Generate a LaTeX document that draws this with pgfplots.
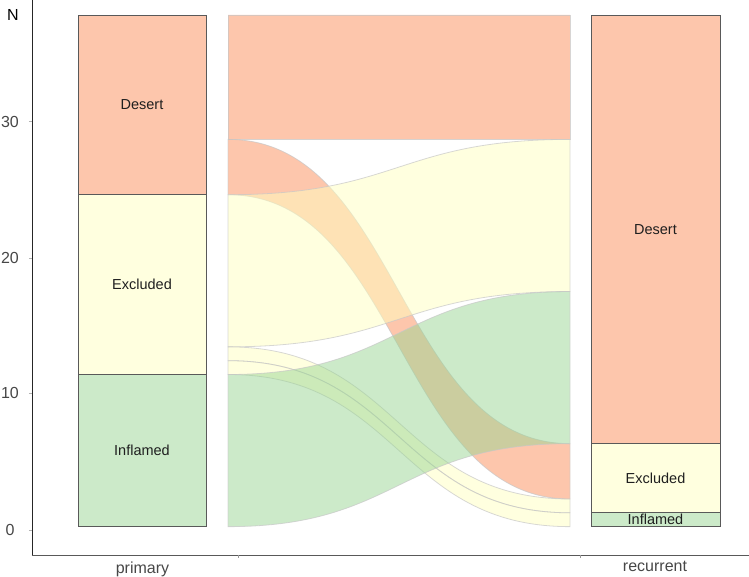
\documentclass[border=0pt]{standalone}
\usepackage{pgfplots}
\pgfplotsset{compat=1.18}
\usepackage{fontspec}
\setmainfont{Liberation Sans}
\definecolor{desert}{HTML}{FC8D59}
\definecolor{excluded}{HTML}{FFFFBF}
\definecolor{inflamed}{HTML}{99D594}
% flow: left top, left bottom, right top, right bottom, colour
\newcommand{\flow}[5]{%
  \filldraw[fill=#5, fill opacity=0.5, draw=black!22, draw opacity=0.7, line width=0.8pt]
    (axis cs:228,#1) .. controls (axis cs:399,#1) and (axis cs:399,#3) .. (axis cs:570,#3)
    -- (axis cs:570,#4) .. controls (axis cs:399,#4) and (axis cs:399,#2) .. (axis cs:228,#2) -- cycle;}
\begin{document}
\begin{tikzpicture}
\useasboundingbox (0,0) rectangle (749pt,577pt);
\begin{axis}[
  at={(32pt,22pt)}, anchor=south west,
  width=717pt, height=555pt, scale only axis,
  xmin=32, xmax=749, ymin=-2.05, ymax=38.08,
  axis lines=left, axis line style={-},
  x axis line style={draw=black!65, line width=0.9pt},
  y axis line style={draw=black!85, line width=0.9pt},
  xtick={142.5,655}, xticklabels={primary,recurrent},
  xtick style={draw=none},
  ytick={-0.27,9.65,19.43,29.28}, yticklabels={0,10,20,30},
  ytick style={draw=black!30, line width=0.6pt},
  tick align=outside, major tick length=3pt,
  tick label style={font=\fontsize{16}{19}\selectfont, text=black!72},
  yticklabel style={text width=20pt, align=center, inner sep=0pt, anchor=center, xshift=-19pt},
  clip=false,
]
% flows (primary -> recurrent)
\flow{37}{28}{37}{28}{desert}
\flow{28}{24}{6}{2}{desert}
\flow{24}{13}{28}{17}{excluded}
\flow{13}{12}{2}{1}{excluded}
\flow{12}{11}{1}{0}{excluded}
\flow{11}{0}{17}{6}{inflamed}
% strata: primary
\addplot[fill=desert, fill opacity=0.5, draw=black!65, line width=0.8pt] coordinates {(78,24) (206,24) (206,37) (78,37)} -- cycle;
\addplot[fill=excluded, fill opacity=0.5, draw=black!65, line width=0.8pt] coordinates {(78,11) (206,11) (206,24) (78,24)} -- cycle;
\addplot[fill=inflamed, fill opacity=0.5, draw=black!65, line width=0.8pt] coordinates {(78,0) (206,0) (206,11) (78,11)} -- cycle;
% strata: recurrent
\addplot[fill=desert, fill opacity=0.5, draw=black!65, line width=0.8pt] coordinates {(591,6) (720,6) (720,37) (591,37)} -- cycle;
\addplot[fill=excluded, fill opacity=0.5, draw=black!65, line width=0.8pt] coordinates {(591,1) (720,1) (720,6) (591,6)} -- cycle;
\addplot[fill=inflamed, fill opacity=0.5, draw=black!65, line width=0.8pt] coordinates {(591,0) (720,0) (720,1) (591,1)} -- cycle;
% labels
\begin{scope}[every node/.style={font=\fontsize{14.5}{17}\selectfont, text=black!88, inner sep=0pt}]
\node at (axis cs:142,30.5) {Desert};
\node at (axis cs:142,17.5) {Excluded};
\node at (axis cs:142,5.5) {Inflamed};
\node at (axis cs:655.5,21.5) {Desert};
\node at (axis cs:655.5,3.5) {Excluded};
\node at (axis cs:655.5,0.5) {Inflamed};
\end{scope}
\node[font=\fontsize{16}{19}\selectfont, inner sep=0pt] at (axis cs:13,37.0) {N};
\draw[black!40, line width=0.6pt] (axis cs:238,-2.05) -- ([yshift=-3pt]axis cs:238,-2.05);
\draw[black!40, line width=0.6pt] (axis cs:580,-2.05) -- ([yshift=-3pt]axis cs:580,-2.05);
\end{axis}
\end{tikzpicture}
\end{document}
